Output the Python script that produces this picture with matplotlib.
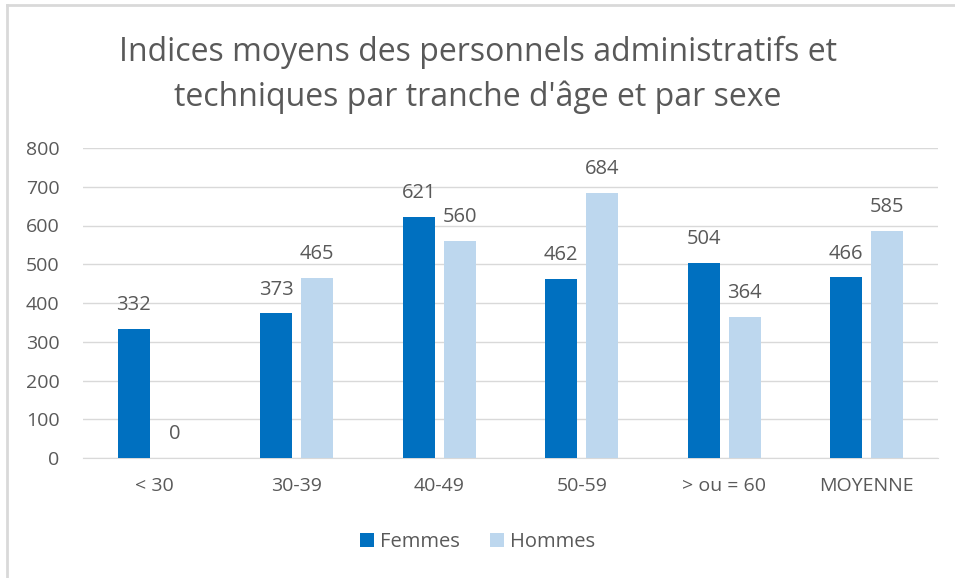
import numpy as np
import matplotlib
matplotlib.use("Agg")
import matplotlib.pyplot as plt
from matplotlib.lines import Line2D

categories = ["< 30", "30-39", "40-49", "50-59", "> ou = 60", "MOYENNE"]
femmes = [332, 373, 621, 462, 504, 466]
hommes = [0, 465, 560, 684, 364, 585]

plt.rcParams["font.family"] = ["Open Sans", "DejaVu Sans"]
text_color = "#595959"

fig = plt.figure(figsize=(9.55, 5.78), dpi=100)
ax = fig.add_axes([83 / 955, 1 - 458 / 578, 855 / 955, 310 / 578])

x = np.arange(len(categories))
w = 0.225
off = 0.144
b1 = ax.bar(x - off, femmes, w, color="#0070C0", label="Femmes", zorder=3)
b2 = ax.bar(x + off, hommes, w, color="#BDD7EE", label="Hommes", zorder=3)

for bars in (b1, b2):
    for r in bars:
        h = r.get_height()
        ax.annotate(f"{h:.0f}", (r.get_x() + r.get_width() / 2, h),
                    xytext=(0, 10), textcoords="offset points",
                    ha="center", va="bottom", fontsize=14.5, color=text_color)

ax.set_xlim(-0.5, len(categories) - 0.5)
ax.set_ylim(0, 800)
ax.set_yticks(range(0, 801, 100))
ax.set_xticks(x)
ax.set_xticklabels(categories)
ax.tick_params(axis="both", length=0, labelsize=14, colors=text_color)
ax.tick_params(axis="y", pad=17)
ax.tick_params(axis="x", pad=14)
ax.grid(axis="y", color="#D9D9D9", linewidth=1, zorder=0)
for s in ["top", "right", "left"]:
    ax.spines[s].set_visible(False)
ax.spines["bottom"].set_color("#D9D9D9")

fig.text(0.5, 1 - 75 / 578,
         "Indices moyens des personnels administratifs et\ntechniques par tranche d'âge et par sexe",
         ha="center", va="center", fontsize=23, color=text_color, linespacing=1.45)

fig.legend(handles=[b1, b2], loc="center", bbox_to_anchor=(0.5, 1 - 542 / 578),
           ncol=2, frameon=False, fontsize=14.5, labelcolor=text_color,
           handlelength=0.7, handleheight=0.7, columnspacing=1.5, handletextpad=0.3)

# chart border (left and top edges)
fig.add_artist(Line2D([7 / 955, 7 / 955], [0, 1 - 5 / 578], color="#D9D9D9", lw=2))
fig.add_artist(Line2D([7 / 955, 1], [1 - 5 / 578, 1 - 5 / 578], color="#D9D9D9", lw=2))

fig.savefig("out.png", dpi=100)
